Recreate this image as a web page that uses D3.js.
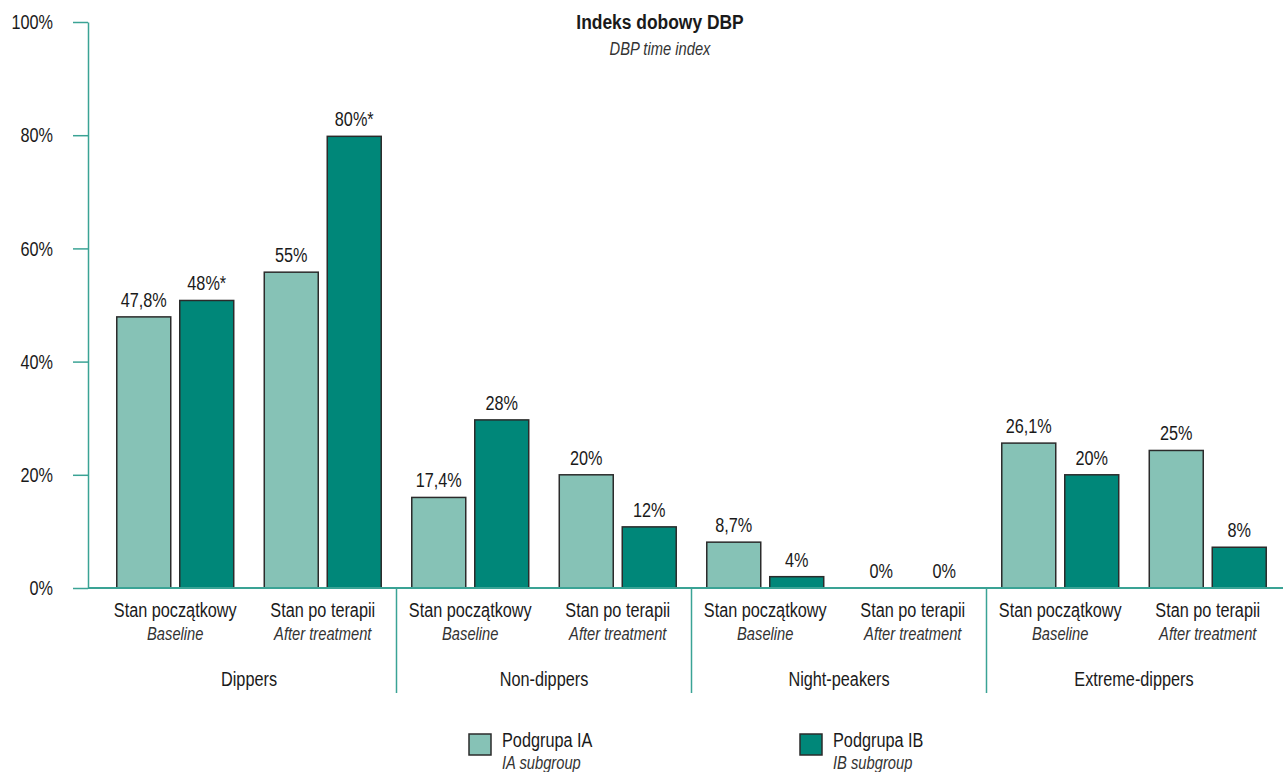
<!DOCTYPE html>
<html>
<head>
<meta charset="utf-8">
<script src="https://cdn.jsdelivr.net/npm/d3@7"></script>
<style>
  body { margin: 0; background: #fff; }
  text { font-family: "Liberation Sans", Arial, sans-serif; fill: #1a1a1a; }
  .it { font-style: italic; fill: #333; }
</style>
</head>
<body>
<script>
// dane
const groups = ['Dippers', 'Non-dippers', 'Night-peakers', 'Extreme-dippers'];
const stages = ['Stan początkowy', 'Stan po terapii'];
const stagesEn = ['Baseline', 'After treatment'];
const series = ['IA', 'IB'];
const seriesNames = ['Podgrupa IA', 'Podgrupa IB'];
const seriesNamesEn = ['IA subgroup', 'IB subgroup'];
// wysokosci slupkow (%), kolejnosc: grupa -> etap
const valuesIA = [47.9, 55.8, 16.0, 20.0, 8.1, 0, 25.6, 24.3];
const valuesIB = [50.8, 79.8, 29.7, 10.8, 2.0, 0, 20.0, 7.2];
// etykiety nad slupkami
const labelsIA = ['47,8%', '55%', '17,4%', '20%', '8,7%', '0%', '26,1%', '25%'];
const labelsIB = ['48%*', '80%*', '28%', '12%', '4%', '0%', '20%', '8%'];
const yTicks = [0, 20, 40, 60, 80, 100];

const colors = { IA: '#86c2b6', IB: '#008779' };
const teal = '#3aa395';

const W = 1283, H = 772;
const svg = d3.select('body').append('svg').attr('width', W).attr('height', H);

// brak fontu "condensed" - zwezamy tekst skalowaniem w poziomie
function narrow(sel, k) {
  k = k || 0.775;
  sel.each(function() {
    const t = d3.select(this);
    const x = +t.attr('x') || 0, y = +t.attr('y') || 0;
    t.attr('x', 0).attr('y', 0)
      .attr('transform', 'translate(' + x + ',' + y + ') scale(' + k + ',1)');
  });
}

// kategorie: grupa x etap
const cats = [];
groups.forEach((g, gi) => stages.forEach((s, si) => cats.push({ g: gi, s: si, key: gi + '-' + si })));

const y = d3.scaleLinear().domain([0, 100]).range([588, 22]);
const x0 = d3.scaleBand().domain(cats.map(d => d.key)).range([101.5, 1281.5])
  .paddingInner(0.207).paddingOuter(0.1035);
const x1 = d3.scaleBand().domain(series).range([0, x0.bandwidth()]).paddingInner(0.143);

// os Y
const yAxis = svg.append('g').attr('transform', 'translate(88,0)')
  .call(d3.axisLeft(y).tickValues(yTicks).tickSize(15).tickSizeOuter(0).tickPadding(20)
    .tickFormat(d => d + '%'));
yAxis.selectAll('path, line').attr('stroke', teal).attr('stroke-width', 1.5);
yAxis.selectAll('text').attr('font-size', 21).style('fill', '#1a1a1a')
  .style('font-family', '"Liberation Sans", Arial, sans-serif')
  .call(narrow);

// slupki
const bars = cats.map((c, i) => [
  { c, i, s: 'IA', v: valuesIA[i], lab: labelsIA[i] },
  { c, i, s: 'IB', v: valuesIB[i], lab: labelsIB[i] }
]).flat();

svg.selectAll('rect.bar').data(bars.filter(d => d.v > 0)).enter()
  .append('rect').attr('class', 'bar')
  .attr('x', d => x0(d.c.key) + x1(d.s))
  .attr('y', d => y(d.v))
  .attr('width', x1.bandwidth())
  .attr('height', d => y(0) - y(d.v))
  .attr('fill', d => colors[d.s])
  .attr('stroke', '#2b2b2b')
  .attr('stroke-width', 1.5);

svg.selectAll('text.val').data(bars).enter()
  .append('text').attr('class', 'val')
  .attr('x', d => x0(d.c.key) + x1(d.s) + x1.bandwidth() / 2)
  .attr('y', d => y(d.v) - 10)
  .attr('text-anchor', 'middle')
  .attr('font-size', 21)
  .text(d => d.lab)
  .call(narrow);

// linia bazowa
svg.append('line').attr('x1', 88).attr('x2', W).attr('y1', y(0)).attr('y2', y(0))
  .attr('stroke', teal).attr('stroke-width', 2);

// separatory grup
const seps = [];
for (let gi = 1; gi < groups.length; gi++) {
  const a = x0(gi - 1 + '-1') + x0.bandwidth();
  const b = x0(gi + '-0');
  seps.push((a + b) / 2);
}
svg.selectAll('line.sep').data(seps).enter().append('line')
  .attr('x1', d => d).attr('x2', d => d).attr('y1', y(0)).attr('y2', 693)
  .attr('stroke', teal).attr('stroke-width', 1.5);

// etykiety kategorii
svg.selectAll('text.stage').data(cats).enter().append('text')
  .attr('x', d => x0(d.key) + x0.bandwidth() / 2).attr('y', 617)
  .attr('text-anchor', 'middle').attr('font-size', 21)
  .text(d => stages[d.s])
  .call(narrow);
svg.selectAll('text.stageEn').data(cats).enter().append('text').attr('class', 'it')
  .attr('x', d => x0(d.key) + x0.bandwidth() / 2).attr('y', 640)
  .attr('text-anchor', 'middle').attr('font-size', 19)
  .text(d => stagesEn[d.s])
  .call(narrow);
svg.selectAll('text.group').data(groups).enter().append('text')
  .attr('x', (d, i) => (x0(i + '-0') + x0(i + '-1') + x0.bandwidth()) / 2).attr('y', 686)
  .attr('text-anchor', 'middle').attr('font-size', 21)
  .text(d => d)
  .call(narrow);

// tytul
svg.append('text').attr('x', 660).attr('y', 29).attr('text-anchor', 'middle')
  .attr('font-size', 21).attr('font-weight', 'bold').text('Indeks dobowy DBP')
  .call(narrow, 0.83);
svg.append('text').attr('class', 'it').attr('x', 660).attr('y', 55).attr('text-anchor', 'middle')
  .attr('font-size', 19).text('DBP time index')
  .call(narrow);

// legenda
const legX = [469, 800];
const leg = svg.selectAll('g.leg').data(series).enter().append('g')
  .attr('transform', (d, i) => 'translate(' + legX[i] + ',734)');
leg.append('rect').attr('width', 22).attr('height', 21)
  .attr('fill', d => colors[d]).attr('stroke', '#2b2b2b').attr('stroke-width', 1.5);
leg.append('text').attr('x', 33).attr('y', 13).attr('font-size', 21)
  .text((d, i) => seriesNames[i])
  .call(narrow);
leg.append('text').attr('class', 'it').attr('x', 33).attr('y', 35).attr('font-size', 19)
  .text((d, i) => seriesNamesEn[i])
  .call(narrow);
</script>
</body>
</html>
